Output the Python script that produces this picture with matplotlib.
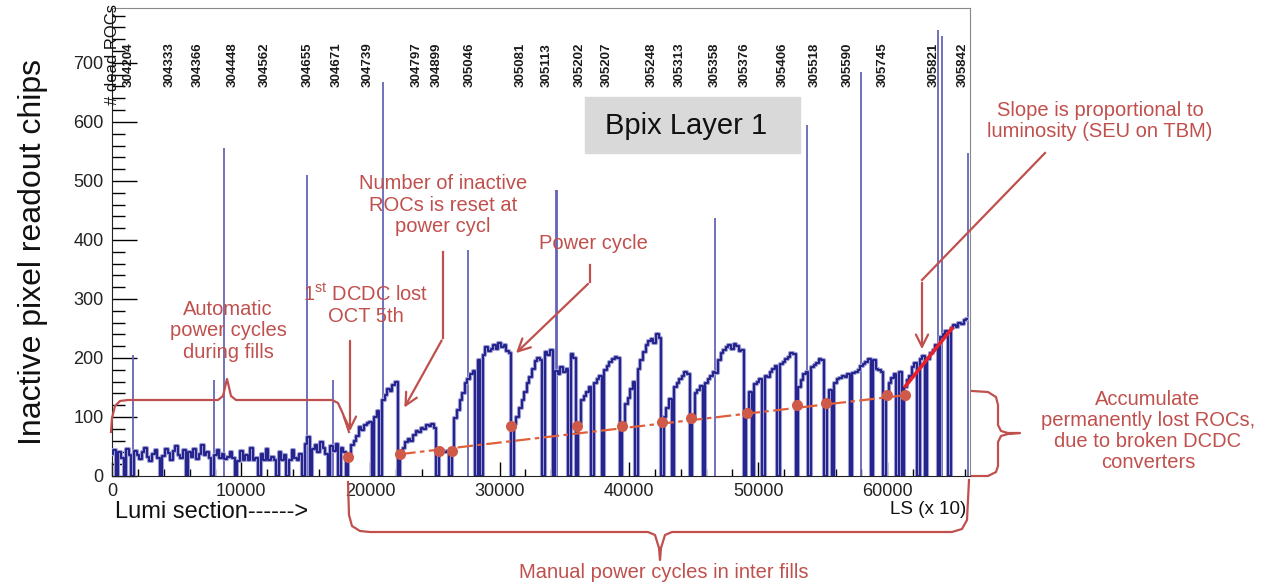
import numpy as np
import matplotlib.pyplot as plt
from matplotlib.lines import Line2D
from matplotlib.patches import Rectangle, FancyArrowPatch
from matplotlib.ticker import MultipleLocator

plt.rcParams['font.family'] = ['Liberation Sans', 'DejaVu Sans']
plt.rcParams['mathtext.fontset'] = 'custom'
plt.rcParams['mathtext.rm'] = 'Liberation Sans'

W, H = 1268, 582

# run numbers written along the top, at the LS where each run starts
run_numbers = ['304204', '304333', '304366', '304448', '304562', '304655', '304671',
               '304739', '304797', '304899', '305046', '305081', '305113', '305202',
               '305207', '305248', '305313', '305358', '305376', '305406', '305518',
               '305590', '305745', '305821', '305842']
run_ls = [1300, 4490, 6650, 9360, 11840, 15170, 17410, 19810, 23600, 25150, 27710,
          31600, 33600, 36220, 38310, 41800, 43960, 46670, 48990, 51930, 54410,
          56970, 59670, 63550, 65870]

# dead ROCs, one value every 200 LS starting at LS 0 (0 = power cycle)
ls_step = 200
dead_rocs = [
    38, 44, 0, 40, 30, 0, 46, 35, 0, 42,            # 0
    36, 28, 41, 47, 33, 25, 38, 44, 30, 0,          # 2000
    34, 45, 39, 27, 42, 50, 36, 31, 44, 0,          # 4000
    40, 33, 46, 29, 38, 52, 35, 41, 30, 0,          # 6000
    36, 44, 31, 38, 28, 33, 40, 30, 0, 26,          # 8000
    42, 27, 35, 27, 48, 27, 30, 0, 38, 27,          # 10000
    45, 27, 33, 27, 0, 40, 27, 36, 0, 27,           # 12000
    44, 30, 27, 38, 0, 55, 66, 0, 45, 52,           # 14000
    40, 58, 47, 38, 0, 50, 43, 55, 0, 48,           # 16000
    40, 0, 32, 52, 60, 68, 83, 78, 86, 90,          # 18000
    92, 0, 100, 110, 0, 128, 138, 148, 144, 155,    # 20000
    160, 0, 40, 48, 57, 62, 60, 70, 76, 74,         # 22000
    82, 80, 86, 84, 88, 82, 0, 42, 43, 41,          # 24000
    42, 0, 45, 98, 112, 128, 140, 158, 165, 172,    # 26000
    178, 0, 196, 0, 205, 218, 212, 216, 222, 215,   # 28000
    226, 218, 222, 212, 208, 0, 88, 100, 115, 128,  # 30000
    142, 158, 168, 182, 195, 200, 196, 0, 210, 205, # 32000
    214, 0, 178, 172, 185, 176, 182, 0, 206, 200,   # 34000
    0, 90, 128, 135, 142, 150, 0, 158, 164, 170,    # 36000
    0, 180, 186, 194, 198, 202, 200, 0, 90, 122,    # 38000
    132, 148, 160, 0, 182, 196, 210, 222, 228, 232, # 40000
    226, 240, 234, 0, 100, 115, 130, 0, 150, 158,   # 42000
    164, 170, 176, 172, 0, 102, 140, 146, 152, 0,   # 44000
    158, 164, 170, 176, 174, 196, 208, 214, 218, 222,  # 46000
    216, 224, 220, 212, 214, 0, 110, 142, 0, 156,   # 48000
    160, 164, 0, 170, 168, 176, 182, 186, 0, 190,   # 50000
    194, 198, 202, 208, 206, 0, 150, 162, 172, 176, # 52000
    0, 184, 188, 192, 198, 196, 0, 128, 146, 0,     # 54000
    158, 164, 166, 170, 168, 172, 0, 174, 176, 180, # 56000
    186, 190, 194, 198, 0, 196, 182, 180, 176, 0,   # 58000
    140, 158, 166, 172, 0, 176, 0, 150, 162, 170,   # 60000
    184, 192, 0, 198, 204, 0, 198, 208, 214, 222,   # 62000
    0, 236, 240, 246, 0, 250, 256, 252, 260, 258,   # 64000
    264, 266,                                       # 66000
]

# single-readout spikes
spike_ls = [1620, 7900, 8700, 15100, 17100, 20975, 27550, 34350, 34450,
            46650, 53800, 57950, 63950, 64250, 66250]
spike_top = [205, 163, 556, 510, 163, 668, 383, 485, 485,
             437, 595, 685, 756, 745, 547]

# level right after each power cycle (permanently lost ROCs)
reset_ls = [18270, 22290, 25310, 26320, 30880, 35990, 39470, 42570, 44810,
            49150, 53020, 55260, 59980, 61380]
reset_val = [32, 37, 42, 42, 85, 85, 85, 92, 98, 107, 120, 124, 137, 137]

trend_ls = [22300, 61400]
trend_val = [37, 137]
slope_ls = [61400, 65000]
slope_val = [152, 250]

navy = '#22228c'
red = '#c0504d'

fig = plt.figure(figsize=(W / 100, H / 100), dpi=100)
ax = fig.add_axes([112 / W, 1 - 476 / H, (970 - 112) / W, (476 - 8) / H])

ls = np.arange(len(dead_rocs)) * ls_step
ax.vlines(spike_ls, 0, spike_top, color='#6464b8', lw=1.3, zorder=2)
# soft halo under the trace, then the trace itself
ax.plot(ls, dead_rocs, drawstyle='steps-mid', color='#9c9cd2', lw=3.0, zorder=3)
ax.plot(ls, dead_rocs, drawstyle='steps-mid', color=navy, lw=1.4, zorder=3)

ax.plot(trend_ls, trend_val, color='#e0603c', lw=1.6, ls=(0, (7, 2, 2, 2)), zorder=4)
ax.plot(slope_ls, slope_val, color='#e8202a', lw=2.6, zorder=4)
ax.plot(reset_ls, reset_val, 'o', color='#d05a4a', ms=8, mec='none', zorder=5)

for run, x in zip(run_numbers, run_ls):
    ax.text(x, 697, run, rotation=90, ha='center', va='center',
            fontsize=9.5, fontweight='bold', color='#1a1a1a')

ax.set_xlim(0, 66400)
ax.set_ylim(0, 793)
ax.xaxis.set_major_locator(MultipleLocator(10000))
ax.xaxis.set_minor_locator(MultipleLocator(2000))
ax.yaxis.set_major_locator(MultipleLocator(100))
ax.yaxis.set_minor_locator(MultipleLocator(20))
ax.tick_params(axis='y', which='major', direction='in', length=18, width=1,
               labelsize=13, pad=6, labelcolor='#222222')
ax.tick_params(axis='y', which='minor', direction='in', length=9, width=1)
ax.tick_params(axis='x', which='major', direction='in', length=10, width=1,
               labelsize=13, pad=5, labelcolor='#222222')
ax.tick_params(axis='x', which='minor', direction='in', length=5, width=1)
for side in ['top', 'right']:
    ax.spines[side].set_color('#888888')
for side in ['left', 'bottom']:
    ax.spines[side].set_color('#222222')


def P(px, py):
    return px / W, 1 - py / H


def polyline(points, color=red, lw=1.6):
    xs = [p[0] / W for p in points]
    ys = [1 - p[1] / H for p in points]
    fig.add_artist(Line2D(xs, ys, transform=fig.transFigure, color=color, lw=lw))


def arrow(points):
    if len(points) > 2:
        polyline(points[:-1])
    a = FancyArrowPatch(P(*points[-2]), P(*points[-1]), transform=fig.transFigure,
                        arrowstyle='->', mutation_scale=22, color=red, lw=1.6)
    fig.add_artist(a)


def note(px, py, s, size=14.5, **kw):
    fig.text(*P(px, py), s, ha='center', va='center', fontsize=size,
             color=red, linespacing=1.15, **kw)


# axis titles
fig.text(*P(33, 252), 'Inactive pixel readout chips', rotation=90, ha='center',
         va='center', fontsize=23, color='#111111')
fig.text(*P(112, 4), '# dead ROCs', rotation=90, ha='center', va='top',
         fontsize=12, color='#111111')
fig.text(*P(115, 512), 'Lumi section------>', ha='left', va='center',
         fontsize=17, color='#111111')
fig.text(*P(966, 509), 'LS (x 10)', ha='right', va='center',
         fontsize=13.5, color='#111111')

# detector label
fig.add_artist(Rectangle(P(585, 153), (800 - 585) / W, (153 - 97) / H,
                         transform=fig.transFigure, color='#d9d9d9', zorder=6))
fig.text(*P(686, 126), 'Bpix Layer 1', ha='center', va='center', fontsize=21,
         color='#111111', zorder=7)

# annotations
note(228, 331, 'Automatic\npower cycles\nduring fills')
polyline([(111, 432), (112, 418), (115, 406), (120, 401), (128, 400), (218, 400),
          (223, 396), (226, 383), (227, 379), (228, 383), (231, 396), (236, 400),
          (332, 400), (338, 403), (343, 414), (349, 432)])

note(366, 305, '1$^{\\mathrm{st}}$ DCDC lost\nOCT 5th')
arrow([(350, 338), (350, 434)])

note(443, 205, 'Number of inactive\nROCs is reset at\npower cycl')
arrow([(443, 252), (443, 338), (403, 410)])

note(593, 243, 'Power cycle')
arrow([(590, 265), (590, 282), (514, 355)])

note(1100, 121, 'Slope is proportional to\nluminosity (SEU on TBM)')
arrow([(1045, 153), (922, 280), (922, 352)])

polyline([(972, 391), (988, 392), (996, 397), (998, 405), (998, 425), (1001, 431),
          (1008, 433), (1020, 433), (1008, 434), (1001, 436), (998, 442), (998, 466),
          (996, 472), (988, 476), (972, 476)])
note(1148, 431, 'Accumulate\npermanently lost ROCs,\ndue to broken DCDC\nconverters')

polyline([(348, 482), (349, 515), (352, 526), (360, 531), (370, 532), (648, 532),
          (655, 535), (659, 548), (660, 560), (661, 548), (665, 535), (672, 532),
          (952, 532), (962, 529), (967, 520), (969, 480)])
note(664, 572, 'Manual power cycles in inter fills', size=14.5)

fig.savefig('out.png', dpi=100)
